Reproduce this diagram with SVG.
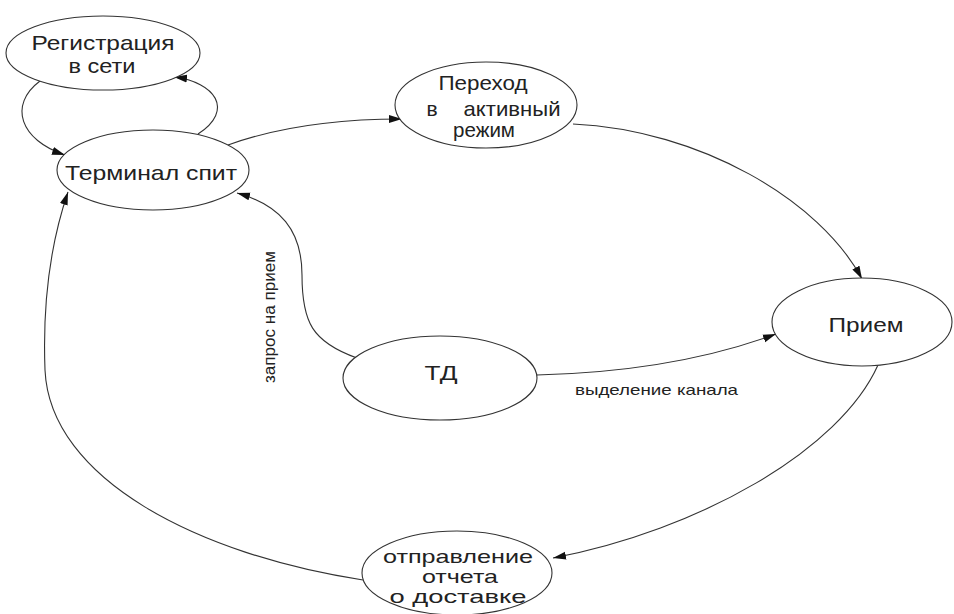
<svg xmlns="http://www.w3.org/2000/svg" width="954" height="614" viewBox="0 0 954 614">
<style>
.node ellipse{fill:#fff;stroke:#333;stroke-width:1.1}
.node text{font-family:"Liberation Sans",Arial,sans-serif;font-size:21px;fill:#222;text-anchor:middle}
.node text.sm{font-size:19px}
.edge path{fill:none;stroke:#333;stroke-width:1.1}
.lbl{font-family:"Liberation Sans",Arial,sans-serif;font-size:15px;fill:#222}
</style>
<defs>
<marker id="ah" markerUnits="userSpaceOnUse" markerWidth="14" markerHeight="10" refX="13" refY="5" orient="auto">
<path d="M0,1 L13,5 L0,9 Z" fill="#111"/>
</marker>
</defs>
<rect width="954" height="614" fill="#fff"/>
<g id="connectors" class="edge">
<path d="M198,134 C235,110 215,82 174,77" marker-end="url(#ah)"/>
<path d="M40,81 C8,105 20,140 65,155" marker-end="url(#ah)"/>
<path d="M228,145 Q300,119 402,119" marker-end="url(#ah)"/>
<path d="M573,124 C700,130 820,200 862,279" marker-end="url(#ah)"/>
<path d="M357,358 C312,342 302,322 302,275 C302,230 280,205 237,193" marker-end="url(#ah)"/>
<path d="M537,375 C620,373 700,362 776,334" marker-end="url(#ah)"/>
<path d="M878,365 C840,450 700,530 553,558" marker-end="url(#ah)"/>
<path d="M363,580 C200,555 50,480 45,370 C42,290 55,230 68,192" marker-end="url(#ah)"/>
</g>
<g id="reg" class="node">
<ellipse cx="103" cy="53" rx="97" ry="37"/>
<text x="103" y="50" textLength="143" lengthAdjust="spacingAndGlyphs">Регистрация</text>
<text x="102" y="73" textLength="67" lengthAdjust="spacingAndGlyphs">в сети</text>
</g>
<g id="term" class="node">
<ellipse cx="153" cy="170" rx="96" ry="40"/>
<text x="151" y="180" textLength="172" lengthAdjust="spacingAndGlyphs">Терминал спит</text>
</g>
<g id="perehod" class="node">
<ellipse cx="486" cy="105" rx="91" ry="43"/>
<text x="483" y="90" textLength="89" lengthAdjust="spacingAndGlyphs">Переход</text>
<text x="432" y="116">в</text>
<text x="512" y="116" textLength="97" lengthAdjust="spacingAndGlyphs">активный</text>
<text x="484" y="137" textLength="62" lengthAdjust="spacingAndGlyphs">режим</text>
</g>
<g id="priem" class="node">
<ellipse cx="862" cy="322" rx="90" ry="44"/>
<text x="866" y="332" textLength="75" lengthAdjust="spacingAndGlyphs">Прием</text>
</g>
<g id="td" class="node">
<ellipse cx="440" cy="378" rx="97" ry="42"/>
<text x="441" y="380" textLength="33" lengthAdjust="spacingAndGlyphs">ТД</text>
</g>
<g id="otpr" class="node">
<ellipse cx="457" cy="573" rx="95" ry="42"/>
<text class="sm" x="458" y="563" textLength="150" lengthAdjust="spacingAndGlyphs">отправление</text>
<text class="sm" x="460" y="583" textLength="76" lengthAdjust="spacingAndGlyphs">отчета</text>
<text class="sm" x="458" y="603" textLength="137" lengthAdjust="spacingAndGlyphs">о доставке</text>
</g>
<g id="labels">
<text class="lbl" transform="translate(275,317) rotate(-90)" text-anchor="middle" style="font-size:16px" textLength="132" lengthAdjust="spacingAndGlyphs">запрос на прием</text>
<text class="lbl" x="575" y="395" textLength="163" lengthAdjust="spacingAndGlyphs">выделение канала</text>
</g>
</svg>
